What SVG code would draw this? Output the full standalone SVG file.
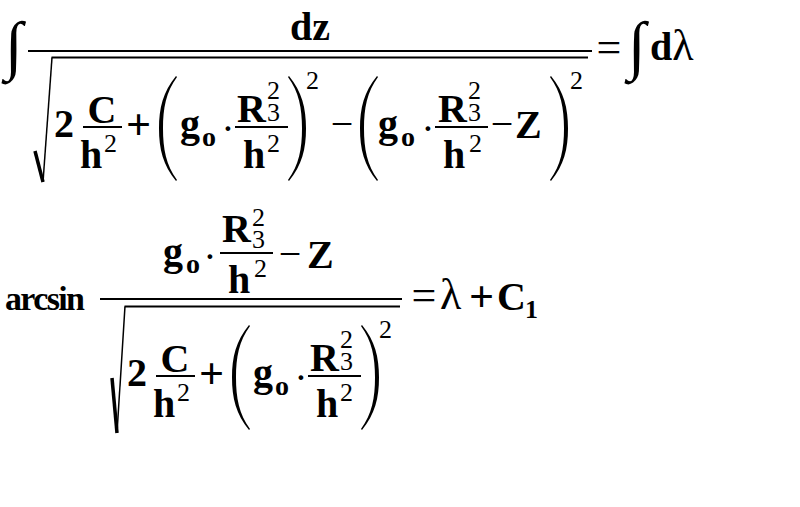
<svg xmlns="http://www.w3.org/2000/svg" xmlns:xlink="http://www.w3.org/1999/xlink" width="800" height="507" viewBox="0 0 800 507">
<style>
text{font-family:"Liberation Serif","Times New Roman",serif;font-size:40px;font-weight:bold;fill:#000}
.n{font-weight:normal}
.s{font-size:26px;font-weight:normal}
.s1{font-size:26px;font-weight:bold}
.sb{font-size:28px}
.op{font-size:44px}
.fn{font-size:34px}
.mid{text-anchor:middle}
.int{font-size:65px;font-weight:normal}
.bar{stroke:#000;stroke-width:2;fill:none}
.rt{stroke:#000;fill:none;stroke-linecap:butt}
</style>
<defs>
<path id="lp" d="M17,1 C4,17 0,33 0,53.5 C0,74 4,90 17,106 L18,105 C7,90 4,74 4,53.5 C4,33 7,17 18,2 Z"/>
<path id="rp" d="M1,1 C14,17 18,33 18,53.5 C18,74 14,90 1,106 L0,105 C11,90 14,74 14,53.5 C14,33 11,17 0,2 Z"/>
<g id="core">
<text x="54" y="137">2</text>
<text class="mid" x="102" y="123">C</text>
<line class="bar" x1="83" y1="127" x2="122" y2="127"/>
<text x="80" y="168">h</text><text class="s" x="104" y="152">2</text>
<text class="op mid" x="138.5" y="139">+</text>
<use xlink:href="#lp" x="159" y="75"/>
<text x="180" y="137">g</text><text class="sb" x="202" y="146">o</text>
<text class="n mid" x="228" y="142">·</text>
<text x="237" y="122">R</text><text class="s" x="267" y="99">2</text><text class="s" x="267" y="121">3</text>
<line class="bar" x1="235" y1="127" x2="288" y2="127"/>
<text x="243" y="168">h</text><text class="s" x="267" y="152">2</text>
<use xlink:href="#rp" x="288" y="75"/>
<text class="s" x="306" y="89">2</text>
</g>
</defs>

<g id="eq1">
<text class="int" x="5" y="67">∫</text>
<text class="mid" x="310" y="40">dz</text>
<line class="bar" x1="28" y1="51" x2="592" y2="51" stroke-width="2.5"/>
<line class="rt" x1="35" y1="151" x2="43" y2="182" stroke-width="3.5"/>
<line class="rt" x1="43" y1="182" x2="52" y2="57.5" stroke-width="1.5"/>
<line class="bar" x1="51.5" y1="57.5" x2="588" y2="57.5"/>
<use xlink:href="#core"/>
<text class="n mid" x="342" y="137">−</text>
<use xlink:href="#lp" x="360" y="75"/>
<text x="378" y="137">g</text><text class="sb" x="401" y="146">o</text>
<text class="n mid" x="428" y="142">·</text>
<text x="438" y="122">R</text><text class="s" x="468" y="99">2</text><text class="s" x="468" y="121">3</text>
<line class="bar" x1="435" y1="127" x2="488" y2="127"/>
<text x="443" y="168">h</text><text class="s" x="469" y="152">2</text>
<text class="n mid" x="502" y="137">−</text>
<text x="515" y="138">Z</text>
<use xlink:href="#rp" x="550" y="75"/>
<text class="s" x="570" y="89">2</text>
<text class="n op mid" x="609" y="62">=</text>
<text class="int" x="628" y="67">∫</text>
<text x="650" y="60">d<tspan class="n op">λ</tspan></text>
</g>

<g id="eq2">
<text class="fn" x="5" y="310" textLength="80">arcsin</text>
<text x="163" y="265">g</text><text class="sb" x="186" y="273">o</text>
<text class="n mid" x="210" y="270">·</text>
<text x="222" y="242">R</text><text class="s" x="252" y="226">2</text><text class="s" x="252" y="248">3</text>
<line class="bar" x1="220" y1="253" x2="273" y2="253"/>
<text x="228" y="293">h</text><text class="s" x="254" y="277">2</text>
<text class="n mid" x="290" y="267">−</text>
<text x="307" y="268">Z</text>
<line class="bar" x1="100" y1="299" x2="402" y2="299" stroke-width="2.5"/>
<line class="rt" x1="112" y1="378" x2="117" y2="433" stroke-width="3.5"/>
<line class="rt" x1="117" y1="433" x2="125" y2="306.5" stroke-width="1.5"/>
<line class="bar" x1="124.5" y1="306.5" x2="400" y2="306.5"/>
<use xlink:href="#core" transform="translate(73,249)"/>
<text class="n op mid" x="424" y="310">=</text>
<text class="n op" x="440" y="309">λ</text>
<text class="op mid" x="481.5" y="311">+</text>
<text x="497" y="310">C</text><text class="s1" x="525" y="318">1</text>
</g>
</svg>
